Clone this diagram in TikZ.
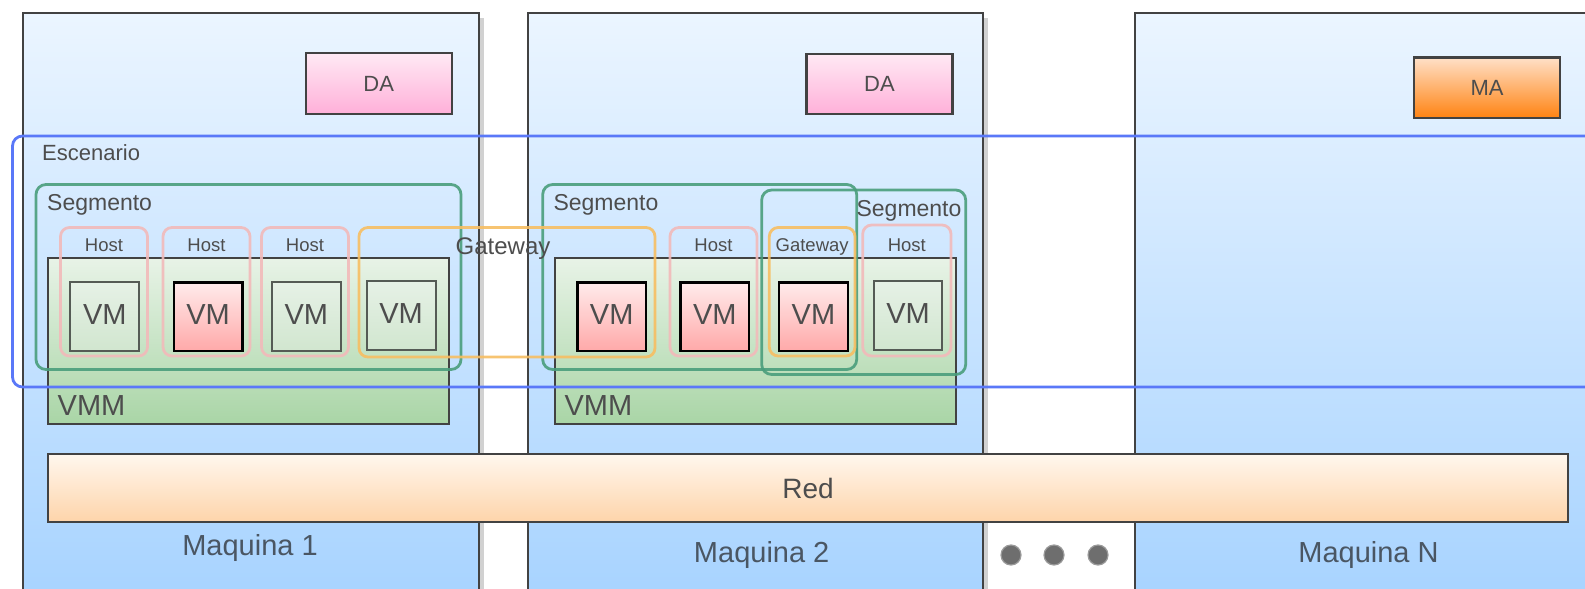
\documentclass[tikz,border=0pt]{standalone}
\usepackage{fontspec}
\setmainfont{Liberation Sans}
\usetikzlibrary{shadows}
\definecolor{boxline}{HTML}{424242}
\definecolor{machtop}{HTML}{EBF5FF}
\definecolor{machbot}{HTML}{A5D2FF}
\definecolor{datop}{HTML}{FFE9F4}
\definecolor{dabot}{HTML}{FFB0D9}
\definecolor{matop}{HTML}{FFE0C8}
\definecolor{mabot}{HTML}{FF8312}
\definecolor{vmmtop}{HTML}{E8F3E7}
\definecolor{vmmbot}{HTML}{A9D5A6}
\definecolor{vmgtop}{HTML}{E6F1E6}
\definecolor{vmgbot}{HTML}{D1E6CF}
\definecolor{vmgline}{HTML}{555B55}
\definecolor{vmrtop}{HTML}{FFEBEB}
\definecolor{vmrbot}{HTML}{FFA9A9}
\definecolor{redtop}{HTML}{FFF7EE}
\definecolor{redbot}{HTML}{FED4AA}
\definecolor{escline}{HTML}{5A78F8}
\definecolor{segline}{HTML}{4A9E7C}
\definecolor{hostline}{HTML}{F2BABA}
\definecolor{gateline}{HTML}{F7BE62}
\definecolor{textgrey}{HTML}{4D4D4D}
\definecolor{machtext}{HTML}{4A5663}
\definecolor{dotfill}{HTML}{6E6E6E}
\definecolor{dotline}{HTML}{9A9A9A}
\begin{document}
\begin{tikzpicture}
[x=1pt,y=-1pt,
  machinedecorate/.style={draw=boxline,line width=2pt,inner sep=0pt,minimum height=607pt,%
    top color=machtop,bottom color=machbot,%
    general shadow={fill=black!18,shadow xshift=5pt,shadow yshift=-5pt}},%
  agentdecorate/.style={draw=boxline,line width=2.2pt,inner sep=0pt,minimum width=146pt,%
    minimum height=60.5pt,text=textgrey,font=\fontsize{22}{26}\selectfont},%
  vmmdecorate/.style={draw=boxline,line width=2pt,inner sep=0pt,top color=vmmtop,%
    bottom color=vmmbot,minimum width=400.5pt,minimum height=166.6pt},%
  vmdecorate/.style={line width=2pt,inner sep=0pt,minimum width=68.8pt,minimum height=68.3pt,%
    text height=21pt,text depth=5pt,text=textgrey,font=\fontsize{29}{34}\selectfont},%
  vmgreen/.style={vmdecorate,draw=vmgline,top color=vmgtop,bottom color=vmgbot},%
  vmred/.style={vmdecorate,draw=black,line width=2.4pt,top color=vmrtop,bottom color=vmrbot},%
  groupdecorate/.style={draw,line width=2.8pt,rounded corners=10pt,inner sep=0pt},%
  escenariodecorate/.style={groupdecorate,draw=escline},%
  segmentodecorate/.style={groupdecorate,draw=segline,draw opacity=0.9},%
  hostdecorate/.style={groupdecorate,draw=hostline,draw opacity=0.9,rounded corners=9pt},%
  gatewaydecorate/.style={groupdecorate,draw=gateline,draw opacity=0.9,rounded corners=9pt},%
  labeltext/.style={inner sep=0pt,text=textgrey},%
  machinetext/.style={inner sep=0pt,anchor=base,text=machtext,font=\fontsize{29}{34}\selectfont},%
  dotdecorate/.style={shape=circle,inner sep=0pt,minimum size=20pt,fill=dotfill,draw=dotline,line width=1.2pt}]
\useasboundingbox (0,0) rectangle (1585,589);
\clip (0,0) rectangle (1585,589);
\fill[white] (0,0) rectangle (1585,589);
%% machines
\foreach \nodename/\x/\w in {m1/251/456, m2/755.25/455.5, mN/1377.5/485} {
  \node (\nodename) at (\x,316.5) [machinedecorate,minimum width=\w pt] {};
}
%% agents
\node (da1) at (378.75,83.5) [agentdecorate,top color=datop,bottom color=dabot] {DA};
\node (da2) at (879.5,84) [agentdecorate,top color=datop,bottom color=dabot] {DA};
\node (ma) at (1487,87.75) [agentdecorate,top color=matop,bottom color=mabot] {MA};
%% hypervisors
\node (vmm1) at (248.45,341) [vmmdecorate] {};
\node (vmm2) at (755.35,341) [vmmdecorate] {};
\node[labeltext,anchor=base west,font=\fontsize{29}{34}\selectfont] (vmm1t) at (57.5,415) {VMM};
\node[labeltext,anchor=base west,font=\fontsize{29}{34}\selectfont] (vmm2t) at (564.3,415) {VMM};
%% virtual machines
\foreach \nodename/\x/\y in {vm1/104.8/316.6, vm3/306.4/316.6, vm4/401.1/315.4, vm8/908/315.4} {
  \node (\nodename) at (\x,\y) [vmgreen] {VM};
}
\foreach \nodename/\x in {vm2/208.1, vm5/611.7, vm6/714.8, vm7/813.4} {
  \node (\nodename) at (\x,316.6) [vmred] {VM};
}
%% network
\node (red) at (808.05,488.3) [draw=boxline,line width=2pt,inner sep=0pt,minimum width=1519.5pt,%
  minimum height=68pt,top color=redtop,bottom color=redbot,text=textgrey,%
  font=\fontsize{28}{33}\selectfont] {Red};
\node[machinetext] (m1t) at (250,555.7) {Maquina 1};
\node[machinetext] (m2t) at (761.7,562.7) {Maquina 2};
\node[machinetext] (mNt) at (1368.5,562.7) {Maquina N};
\foreach \nodename/\x in {dot1/1011, dot2/1054, dot3/1098} {
  \node (\nodename) at (\x,555) [dotdecorate] {};
}
%% groups
\node (esc) at (816.25,261.5) [escenariodecorate,minimum width=1607.5pt,minimum height=251pt] {};
\node[labeltext,anchor=base west,font=\fontsize{22}{26}\selectfont] (esct) at (42,160) {Escenario};
\foreach \nodename/\x/\y/\w/\h in {seg1/248.5/277/425/185, seg2/699.7/277/314/185, seg3/863.7/282.25/204/184.5} {
  \node (\nodename) at (\x,\y) [segmentodecorate,minimum width=\w pt,minimum height=\h pt] {};
}
\node[labeltext,anchor=base west,font=\fontsize{23}{27}\selectfont] (seg1t) at (47,210.5) {Segmento};
\node[labeltext,anchor=base west,font=\fontsize{23}{27}\selectfont] (seg2t) at (553.3,210.5) {Segmento};
\node[labeltext,anchor=base,font=\fontsize{23}{27}\selectfont] (seg3t) at (909,216.5) {Segmento};
\foreach \nodename/\x/\y/\w/\h in {h1/104/291.75/87/128.5, h2/206.5/291.75/87/128.5,
    h3/305/291.75/87/128.5, h4/713.5/291.75/87/128.5, h5/906.85/290.5/88.3/131} {
  \node (\nodename) at (\x,\y) [hostdecorate,minimum width=\w pt,minimum height=\h pt] {};
  \node[labeltext,anchor=base,font=\fontsize{18.5}{22}\selectfont] (\nodename t) at (\x,251.7) {Host};
}
\node (gw1) at (507,292.25) [gatewaydecorate,minimum width=296pt,minimum height=129.5pt] {};
\node (gw2) at (812.15,291.75) [gatewaydecorate,minimum width=85.7pt,minimum height=128.5pt] {};
\node[labeltext,anchor=base,font=\fontsize{24}{28}\selectfont] (gw1t) at (503,254) {Gateway};
\node[labeltext,anchor=base,font=\fontsize{18.5}{22}\selectfont] (gw2t) at (812.15,251.7) {Gateway};
\end{tikzpicture}
\end{document}
